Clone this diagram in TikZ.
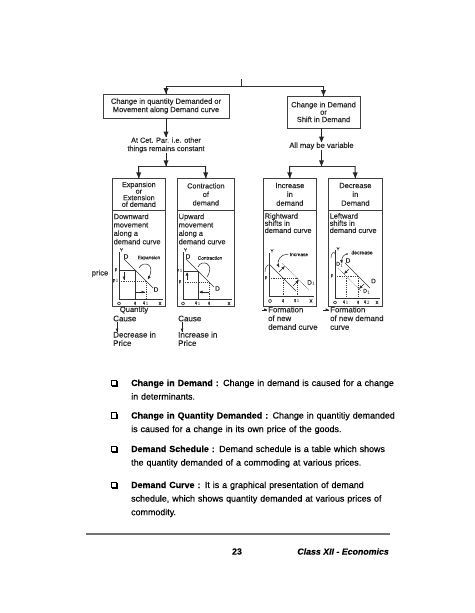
\documentclass[tikz,border=0pt]{standalone}
\usepackage{fontspec}
\setmainfont{Liberation Sans}[FakeBold=0.2]
\usetikzlibrary{decorations.markings,shadows}
\newcommand{\jline}[1]{\makebox[258pt][s]{#1}}
\begin{document}
\begin{tikzpicture}[x=1pt,y=-1pt,
  ln/.style={draw=black!80, line width=0.6pt},
  thin/.style={draw=black!80, line width=0.45pt},
  dsh/.style={draw=black!75, line width=0.45pt, dash pattern=on 1.2pt off 1pt},
  dot/.style={draw=black!70, line width=0.5pt, dash pattern=on 0.6pt off 0.9pt},
  bigtip/.style={postaction={decorate, decoration={markings, mark=at position 1 with {\fill[black!85] (0.2pt,0pt) -- (-5.6pt,2.5pt) -- (-5.6pt,-2.5pt) -- cycle;}}}},
  smtip/.style={postaction={decorate, decoration={markings, mark=at position 1 with {\fill[black!85] (0.2pt,0pt) -- (-3pt,1.4pt) -- (-3pt,-1.4pt) -- cycle;}}}},
  arr/.style={draw=black!85, line width=1pt, bigtip},
  sarr/.style={draw=black!85, line width=0.5pt, smtip},
  box/.style={draw=black!75, line width=0.7pt, inner sep=0, align=center, text=black!85},
  dtx/.style={inner sep=0, text=black!85, align=left},
  lbl/.style={inner sep=0, text=black!85, font=\fontsize{4.4}{5}\selectfont},
  dl/.style={inner sep=0, text=black!85, font=\fontsize{6.4}{7}\selectfont},
  para/.style={anchor=base west, inner sep=0, text width=258pt, align=left, font=\fontsize{8.9}{13.6}\selectfont},
  bul/.style={draw=black, fill=white, line width=0.8pt, minimum size=5.6pt, inner sep=0,
    drop shadow={shadow xshift=1pt, shadow yshift=-1pt, fill=black, opacity=1}}
]
\useasboundingbox (0,0) rectangle (474,613);
\fill[white] (0,0) rectangle (474,613);

% ---------- top level ----------
\node[box, minimum width=126, minimum height=24, font=\fontsize{7.5}{8.3}\selectfont] (topL) at (166,106) {Change in quantity Demanded or\\Movement along Demand curve};
\node[box, minimum width=73, minimum height=32, font=\fontsize{7.5}{7.4}\selectfont] (topR) at (323.5,112) {Change in Demand\\or\\Shift in Demand};

\coordinate (tM) at (241,79);
\coordinate (tJ) at (241,86);
\coordinate (tL) at (166,86);
\coordinate (tR) at (323.5,86);
\draw[ln, line width=1pt] (tM) -- (tJ);
\draw[ln, line width=1pt] (tL) -- (tR);
\draw[arr] (tL) -- (topL.north);
\draw[arr] (tR) -- (topR.north);

% left branch
\node[dtx, align=center, font=\fontsize{7.3}{8.3}\selectfont] (cet) at (166,145) {At Cet. Par. i.e. other\\things remains constant};
\draw[arr] (topL.south) -- (cet.north);
\coordinate (jL) at (166,166);
\coordinate (bL1) at (138.5,166);
\coordinate (bL2) at (205.5,166);
\draw[arr] (cet.south) -- (jL);
\draw[ln, line width=1pt] (bL1) -- (bL2);

% right branch
\node[dtx, align=center, font=\fontsize{7.6}{8.3}\selectfont] (var) at (321.5,146) {All may be variable};
\draw[arr] (topR.south -| var.north) -- (var.north);
\coordinate (jR) at (321.5,166);
\coordinate (bR1) at (289.5,166);
\coordinate (bR2) at (355,166);
\draw[arr] (var.south) -- (jR);
\draw[ln, line width=1pt] (bR1) -- (bR2);

% ---------- four boxes ----------
\node[box, anchor=north west, minimum width=53, minimum height=32, font=\fontsize{7.2}{6.6}\selectfont] (expT) at (112,178) {Expansion\\or\\Extension\\of demand};
\node[box, anchor=north west, minimum width=53, minimum height=96] (expB) at (112,210) {};
\node[box, anchor=north west, minimum width=57, minimum height=32, font=\fontsize{7.3}{8.5}\selectfont] (conT) at (177,178) {Contraction\\of\\demand};
\node[box, anchor=north west, minimum width=57, minimum height=96] (conB) at (177,210) {};
\node[box, anchor=north west, minimum width=53, minimum height=32, font=\fontsize{7.5}{8.8}\selectfont] (incT) at (263,178) {Increase\\in\\demand};
\node[box, anchor=north west, minimum width=53, minimum height=96] (incB) at (263,210) {};
\node[box, anchor=north west, minimum width=54, minimum height=32, font=\fontsize{7.5}{8.8}\selectfont] (decT) at (328,178) {Decrease\\in\\Demand};
\node[box, anchor=north west, minimum width=54, minimum height=96] (decB) at (328,210) {};

\draw[arr] (bL1) -- (expT.north);
\draw[arr] (bL2) -- (conT.north);
\draw[arr] (bR1) -- (incT.north);
\draw[arr] (bR2) -- (decT.north);

\node[dtx, anchor=north west, font=\fontsize{7.4}{8.4}\selectfont] (expTx) at (113.5,213.5) {Downward\\movement\\along a\\demand curve};
\node[dtx, anchor=north west, font=\fontsize{7.4}{8.4}\selectfont] (conTx) at (178.5,213.5) {Upward\\movement\\along a\\demand curve};
\node[dtx, anchor=north west, font=\fontsize{7.4}{7.2}\selectfont] (incTx) at (264.5,213) {Rightward\\shifts in\\demand curve};
\node[dtx, anchor=north west, font=\fontsize{7.4}{7.2}\selectfont] (decTx) at (329.5,213) {Leftward\\shifts in\\demand curve};

% ---------- Expansion graph ----------
\draw[thin] (119,252) -- (119,299) -- (163,299);
\node[lbl] at (121.5,250) {Y};
\draw[ln] (124,259) -- (153,288);
\node[dl] at (126,256.5) {D};
\node[dl] at (156,289.5) {D};
\draw[thin] (119,270) -- (135,270) -- (135,299);
\draw[dsh] (119,281) -- (146,281) -- (146,299);
\node[lbl] at (116,270) {p};
\node[lbl] at (116,281) {p$_1$};
\draw[sarr] (124,272) -- (124,279.5);
\draw[sarr] (136,292) -- (144.5,292);
\node[lbl, font=\fontsize{4.8}{5}\selectfont] at (149,258) {Expansion};
\draw[sarr] (139,268) .. controls (143,260) and (157,264) .. (148,279);
\node[lbl] at (119,303.5) {O};
\node[lbl] at (135,303.5) {q};
\node[lbl] at (146,303.5) {q$_1$};
\node[lbl] at (160,303.5) {X};

% ---------- Contraction graph ----------
\draw[thin] (183,252) -- (183,299) -- (232,299);
\node[lbl] at (185.5,250) {Y};
\draw[ln] (186,259) -- (214,287);
\node[dl] at (188,256.5) {D};
\node[dl] at (217.5,288.5) {D};
\draw[thin] (183,271) -- (198,271) -- (198,299);
\draw[dsh] (183,282) -- (209,282) -- (209,299);
\node[lbl] at (180,271) {p$_1$};
\node[lbl] at (180,282) {p};
\draw[sarr] (187,280) -- (187,272.5);
\draw[sarr] (209,292) -- (199.5,292);
\node[lbl, font=\fontsize{4.8}{5}\selectfont] at (210,258) {Contraction};
\draw[sarr] (198,267) .. controls (201,259) and (216,263) .. (207,277);
\node[lbl] at (183,303.5) {O};
\node[lbl] at (198,303.5) {q$_1$};
\node[lbl] at (209,303.5) {q};
\node[lbl] at (229,303.5) {X};

% ---------- Increase graph ----------
\draw[thin] (269,253) -- (269,296) -- (314,296);
\node[lbl] at (272,251) {Y};
\draw[ln] (271,266) -- (296,291);
\draw[dot] (282,263) -- (309,290);
\draw[dsh] (269,278) -- (297,278);
\draw[dsh] (283,278) -- (283,296);
\draw[dsh] (297,278) -- (297,296);
\node[lbl] at (266,278) {p};
\draw[sarr] (279,272) -- (284.5,266.5);
\draw[sarr] (293,286) -- (298.5,280.5);
\node[lbl, font=\fontsize{4.8}{5}\selectfont] at (299,254.5) {Increase};
\draw[sarr] (288,254.5) .. controls (280,254) and (276,261) .. (279,267);
\draw[thin] (265,272) .. controls (265,265) and (270,263) .. (271,266);
\node[dl] at (311.5,283) {D$_1$};
\node[lbl] at (270,301) {O};
\node[lbl] at (283,301) {q};
\node[lbl] at (297,301) {q$_1$};
\node[lbl] at (311,301) {X};

% ---------- Decrease graph ----------
\draw[thin] (335,250) -- (335,298) -- (380,298);
\node[lbl] at (338,249) {Y};
\draw[ln] (345,263) -- (370,288);
\draw[dot] (338,268) -- (361,291);
\draw[dsh] (335,276) -- (358,276);
\draw[dsh] (346,276) -- (346,298);
\draw[dsh] (358,276) -- (358,298);
\node[lbl] at (332,276) {p};
\node[dl] at (348,260.5) {D};
\node[dl, font=\fontsize{5.2}{6}\selectfont] at (340,264.5) {D$_1$};
\node[dl] at (373.5,281) {D};
\node[dl, font=\fontsize{5.2}{6}\selectfont] at (367,291.5) {D$_1$};
\draw[sarr] (349,269) -- (344.5,273.5);
\draw[sarr] (364,284) -- (359.5,288.5);
\fill[black!85] (347,254) circle (0.9);
\node[lbl, font=\fontsize{5.2}{5.5}\selectfont] at (362,252.5) {decrease};
\draw[sarr] (347,254) .. controls (343,255) and (341,258) .. (342,263);
\draw[thin] (331,258) .. controls (331,252) and (335,251) .. (335,254);
\node[lbl] at (335,302.5) {O};
\node[lbl] at (346,302.5) {q$_1$};
\node[lbl] at (358,302.5) {q};
\node[lbl] at (367,302.5) {q$_2$};
\node[lbl] at (377,302.5) {X};

% ---------- texts below boxes ----------
\node[dtx, font=\fontsize{7.6}{8}\selectfont] (price) at (100,273.5) {price};
\node[dtx, font=\fontsize{7.6}{8}\selectfont] (quant) at (134,310) {Quantity};
\node[dtx, anchor=west, font=\fontsize{8}{8.8}\selectfont] (causeL) at (113,318.5) {Cause};
\node[dtx, anchor=north west, font=\fontsize{8}{8.4}\selectfont] (resL) at (113,331.5) {Decrease in\\Price};
\draw[sarr] ([xshift=4pt]causeL.south west) -- ([xshift=4pt]resL.north west);
\node[dtx, anchor=west, font=\fontsize{8}{8.8}\selectfont] (causeR) at (178,318.5) {Cause};
\node[dtx, anchor=north west, font=\fontsize{8}{8.4}\selectfont] (resR) at (178,331.5) {Increase in\\Price};
\draw[sarr] ([xshift=4pt]causeR.south west) -- ([xshift=4pt]resR.north west);

\node[dtx, anchor=north west, font=\fontsize{7.8}{8.7}\selectfont] (formI) at (268,306.5) {Formation\\of new\\demand curve};
\node[dtx, anchor=north west, font=\fontsize{7.8}{8.7}\selectfont] (formD) at (330,306.5) {Formation\\of new demand\\curve};
\coordinate (fi1) at (261.5,309.8); \coordinate (fi2) at (267,309.8);
\coordinate (fd1) at (323,309.8); \coordinate (fd2) at (328.5,309.8);
\draw[sarr] (fi1) -- (fi2);
\draw[sarr] (fd1) -- (fd2);

% ---------- bullet list ----------
\node[bul] (b1) at (114,383) {};
\node[para] (p1) at (131,386) {\jline{\textbf{Change in Demand :} Change in demand is caused for a change}\\in determinants.};
\node[bul] (b2) at (114,415.5) {};
\node[para] (p2) at (131,418.5) {\jline{\textbf{Change in Quantity Demanded :} Change in quantitiy demanded}\\is caused for a change in its own price of the goods.};
\node[bul] (b3) at (114,449) {};
\node[para] (p3) at (131,452) {\jline{\textbf{Demand Schedule :} Demand schedule is a table which shows}\\the quantity demanded of a commoding at various prices.};
\node[bul] (b4) at (114,485) {};
\node[para] (p4) at (131,488) {\jline{\textbf{Demand Curve :} It is a graphical presentation of demand}\\\jline{schedule, which shows quantity demanded at various prices of}\\commodity.};

% ---------- footer ----------
\coordinate (fl) at (86,534);
\coordinate (fr) at (390,534);
\draw[black!55, line width=1.1pt] (fl) -- (fr);
\node[inner sep=0, font=\fontsize{8.8}{10}\selectfont\bfseries] (pg) at (237,551.5) {23};
\node[inner sep=0, anchor=east, font=\fontsize{8.8}{10}\selectfont\bfseries\itshape] (cls) at (389,551.5) {Class XII - Economics};
\end{tikzpicture}
\end{document}
